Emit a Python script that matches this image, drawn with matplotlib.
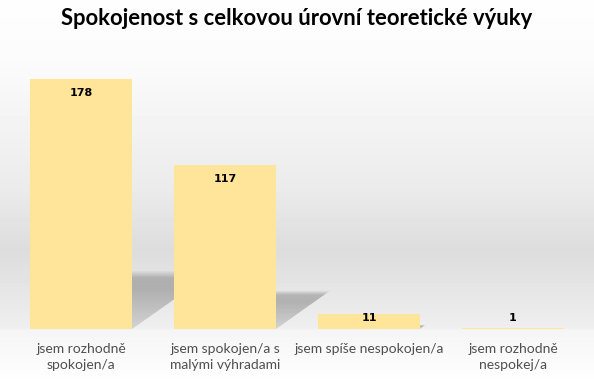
import matplotlib
matplotlib.use("Agg")
import matplotlib.pyplot as plt
from matplotlib.patches import Polygon
import numpy as np

title = "Spokojenost s celkovou úrovní teoretické výuky"
categories = ["jsem rozhodně\nspokojen/a",
              "jsem spokojen/a s\nmalými výhradami",
              "jsem spíše nespokojen/a",
              "jsem rozhodně\nnespokej/a"]
counts = [178, 117, 11, 1]

bar_color = "#FFE599"
label_color = "#4f4f4f"
bar_width = 0.71

fig = plt.figure(figsize=(5.94, 3.79), dpi=100)

# background: light wall getting greyer towards the floor, light floor below
bg = fig.add_axes([0, 0, 1, 1], zorder=-10)
rows = np.linspace(0, 1, 379)
stops_y = [0.0, 0.16, 0.50, 0.66, 0.866, 0.872, 1.0]
stops_v = [0.995, 0.985, 0.92, 0.865, 0.935, 0.96, 0.995]
shade = np.interp(rows, stops_y, stops_v)
img = np.repeat(shade[:, None], 2, axis=1)
bg.imshow(img, cmap="gray", vmin=0, vmax=1, aspect="auto", extent=[0, 1, 0, 1])
bg.axis("off")

ax = fig.add_axes([9 / 594, 50 / 379, 576 / 594, 281 / 379])
ax.patch.set_alpha(0)
x = np.arange(len(categories))

# perspective shadow behind each bar (triangle to the right, fading at the top)
px_x = 576 / 4.0
px_y = 281 / 200.0
grad = np.zeros((64, 2, 4))
a = np.interp(np.linspace(0, 1, 64), [0, 0.12, 0.3, 1.0], [0.0, 0.22, 0.24, 0.12])
grad[:, :, 3] = a[:, None]
for xi, v in zip(x, counts):
    hs = 0.235 * v
    d = (hs * px_y / 0.7) / px_x
    xr = xi + bar_width / 2
    tri = Polygon([(xr, 0), (xr, hs), (xr + d, hs)], closed=True,
                  transform=ax.transData, facecolor="none", edgecolor="none")
    ax.add_patch(tri)
    im = ax.imshow(grad, extent=[xr, xr + d + 1e-6, 0, hs + 1e-6], aspect="auto",
                   zorder=2, interpolation="bilinear")
    im.set_clip_path(tri)

ax.set_xlim(-0.5, len(categories) - 0.5)
ax.set_ylim(0, 200)
ax.set_aspect("auto")

bars = ax.bar(x, counts, width=bar_width, color=bar_color, zorder=3)

for xi, v in zip(x, counts):
    # label just under the top of the bar, but never below the floor line
    yv = max(v, 18)
    ax.annotate(str(v), (xi, yv), xytext=(0, -10.5), textcoords="offset points",
                ha="center", va="center", fontsize=8, fontweight="bold",
                family="DejaVu Sans", color="black", zorder=5)

ax.set_xticks(x)
ax.set_xticklabels(categories, fontsize=10, color=label_color, family="Lato",
                   linespacing=1.45)
ax.tick_params(axis="x", length=0, pad=10)
ax.set_yticks([])
for s in ax.spines.values():
    s.set_visible(False)

fig.text(0.5, 1 - 18.5 / 379, title, ha="center", va="center", fontsize=15.8,
         fontweight="bold", family="Lato", color="black")

fig.savefig("out.png", dpi=100)
